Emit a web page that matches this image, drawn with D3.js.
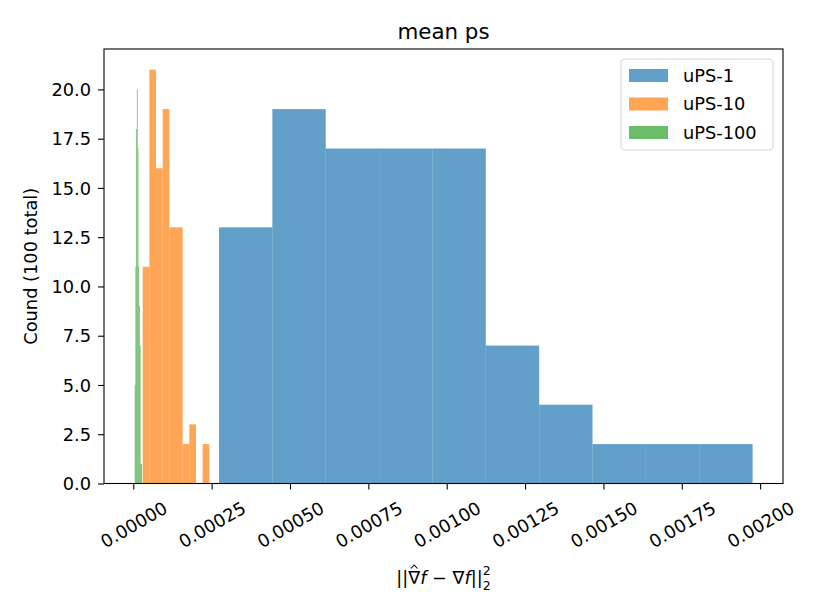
<!DOCTYPE html>
<html>
<head>
<meta charset="utf-8">
<script src="https://cdn.jsdelivr.net/npm/d3@7/dist/d3.min.js"></script>
<style>
  body { margin: 0; background: #fff; }
  svg { display: block; font-family: "DejaVu Sans", sans-serif; }
</style>
</head>
<body>
<svg id="chart" width="822" height="616"></svg>
<script>
// ---- data ----
const seriesNames = ["uPS-1", "uPS-10", "uPS-100"];
const seriesColors = ["#1f77b4", "#ff7f0e", "#2ca02c"];
// histogram ranges [min, max] of each series, 10 bins each
const range1 = [0.0002735, 0.001976];
const range10 = [0.0000300, 0.0002425];
const range100 = [0.0000045, 0.0000278];
const counts1 = [13, 19, 17, 17, 17, 7, 4, 2, 2, 2];
const counts10 = [11, 21, 16, 19, 13, 13, 2, 3, 0, 2];
const counts100 = [5, 11, 18, 20, 17, 11, 9, 7, 1, 1];
const xTicks = [0, 0.00025, 0.0005, 0.00075, 0.001, 0.00125, 0.0015, 0.00175, 0.002];
const yTicks = [0, 2.5, 5, 7.5, 10, 12.5, 15, 17.5, 20];
const xDomain = [-0.0000935, 0.002073];
const yDomain = [0, 22.05];
const titleText = "mean ps";
const yLabelText = "Cound (100 total)";

// ---- layout ----
const pL = 104, pR = 783, pT = 49, pB = 483.5;
const svg = d3.select("#chart");
const x = d3.scaleLinear().domain(xDomain).range([pL, pR]);
const y = d3.scaleLinear().domain(yDomain).range([pB, pT]);

function bins(range, counts) {
  const n = counts.length, w = (range[1] - range[0]) / n;
  return counts.map((c, i) => ({ x0: range[0] + i * w, x1: range[0] + (i + 1) * w, c }));
}
const series = [bins(range1, counts1), bins(range10, counts10), bins(range100, counts100)];

const plot = svg.append("g");
series.forEach((bs, si) => {
  plot.append("g").selectAll("rect").data(bs.filter(b => b.c > 0)).join("rect")
    .attr("x", d => x(d.x0))
    .attr("width", d => x(d.x1) - x(d.x0))
    .attr("y", d => y(d.c))
    .attr("height", d => y(0) - y(d.c))
    .attr("fill", seriesColors[si])
    .attr("fill-opacity", 0.7);
});

// axes
const fs = 17.8;
const xAxis = svg.append("g").attr("transform", `translate(0,${pB})`)
  .call(d3.axisBottom(x).tickValues(xTicks).tickSize(6).tickFormat(d3.format(".5f")));
xAxis.select(".domain").remove();
xAxis.selectAll(".tick line").attr("stroke", "#000").attr("stroke-width", 1.1);
xAxis.selectAll(".tick text")
  .attr("font-size", fs).attr("font-family", "DejaVu Sans").attr("fill", "#000")
  .attr("text-anchor", "middle").attr("dominant-baseline", "central")
  .attr("y", 0).attr("dy", 0)
  .attr("transform", "translate(0,41) rotate(-30)");

const yAxis = svg.append("g").attr("transform", `translate(${pL},0)`)
  .call(d3.axisLeft(y).tickValues(yTicks).tickSize(6).tickFormat(d3.format(".1f")));
yAxis.select(".domain").remove();
yAxis.selectAll(".tick line").attr("stroke", "#000").attr("stroke-width", 1.1);
yAxis.selectAll(".tick text")
  .attr("font-size", fs).attr("font-family", "DejaVu Sans").attr("fill", "#000")
  .attr("x", -13).attr("dy", "0.35em");

// frame
svg.append("rect").attr("x", pL).attr("y", pT)
  .attr("width", pR - pL).attr("height", pB - pT)
  .attr("fill", "none").attr("stroke", "#000").attr("stroke-width", 1.1);

// title
svg.append("text").attr("x", (pL + pR) / 2).attr("y", 38.5)
  .attr("text-anchor", "middle").attr("font-size", 21.4).attr("fill", "#000")
  .text(titleText);

// y label
svg.append("text")
  .attr("transform", `translate(37,${(pT + pB) / 2}) rotate(-90)`)
  .attr("text-anchor", "middle").attr("font-size", fs).attr("fill", "#000")
  .text(yLabelText);

// x label: ||∇̂f − ∇f||_2^2
const xl = svg.append("g").attr("transform", `translate(${(pL + pR) / 2},584)`);
const xt = xl.append("text").attr("text-anchor", "middle").attr("font-size", fs).attr("fill", "#000");
xt.append("tspan").text("||\u2207");
xt.append("tspan").attr("font-style", "italic").text("f");
xt.append("tspan").text(" \u2212 \u2207");
xt.append("tspan").attr("font-style", "italic").text("f");
xt.append("tspan").text("||");
xt.append("tspan").attr("font-size", 12.5).attr("dy", -9).text("2");
xt.append("tspan").attr("font-size", 12.5).attr("dx", -7.9).attr("dy", 15).text("2");
// hat over the first nabla (drawn as a small path)
const node = xt.node();
const p0 = node.getStartPositionOfChar(2), p1 = node.getEndPositionOfChar(2);
const hx = (p0.x + p1.x) / 2;
xl.append("path")
  .attr("d", `M${hx - 3.2},-15.5 L${hx},-19 L${hx + 3.2},-15.5`)
  .attr("fill", "none").attr("stroke", "#000").attr("stroke-width", 1.1);

// legend
const lg = svg.append("g");
lg.append("rect").attr("x", 621).attr("y", 59).attr("width", 152).attr("height", 91)
  .attr("rx", 4).attr("fill", "#fff").attr("fill-opacity", 0.8)
  .attr("stroke", "#d6d6d6").attr("stroke-width", 1.1);
seriesNames.forEach((name, i) => {
  const cy = 75.5 + i * 28.5;
  lg.append("rect").attr("x", 629).attr("y", cy - 6.5).attr("width", 39).attr("height", 13)
    .attr("fill", seriesColors[i]).attr("fill-opacity", 0.7);
  lg.append("text").attr("x", 683).attr("y", cy).attr("dy", "0.35em")
    .attr("font-size", fs).attr("fill", "#000").text(name);
});
</script>
</body>
</html>
